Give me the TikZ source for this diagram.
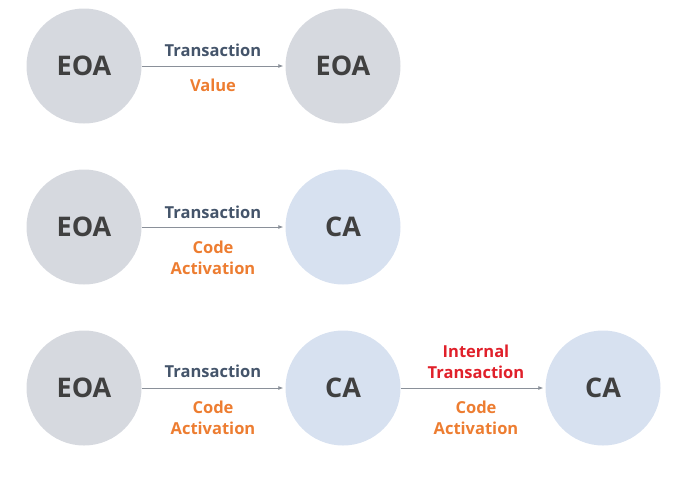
\documentclass[tikz,border=0pt]{standalone}
\usepackage{fontspec}
\setmainfont{Open Sans}
\usetikzlibrary{arrows.meta}
\definecolor{eoafill}{HTML}{D6D9DF}
\definecolor{cafill}{HTML}{D7E1F0}
\definecolor{nodetext}{HTML}{404040}
\definecolor{txtext}{HTML}{44546A}
\definecolor{orangetext}{HTML}{ED7D31}
\definecolor{redtext}{HTML}{E0202A}
\definecolor{arrowcol}{HTML}{8A9099}
\begin{document}
\begin{tikzpicture}[x=1pt,y=-1pt,
  eoa/.style={circle,fill=eoafill,minimum size=115pt,inner sep=0pt,font=\fontsize{27}{30}\selectfont\bfseries,text=nodetext},
  ca/.style={circle,fill=cafill,minimum size=115pt,inner sep=0pt,font=\fontsize{27}{30}\selectfont\bfseries,text=nodetext},
  conn/.style={draw=arrowcol,line width=0.8pt,-{Latex[length=5pt,width=4pt]},shorten >=2pt},
  toplbl/.style={font=\fontsize{16.5}{21}\selectfont\bfseries,text=txtext,align=center},
  botlbl/.style={font=\fontsize{16.5}{21.5}\selectfont\bfseries,text=orangetext,align=center},
  redlbl/.style={font=\fontsize{16.5}{21.5}\selectfont\bfseries,text=redtext,align=center}]
\useasboundingbox (0,0) rectangle (678,488);
% row 1
\node[eoa] (e1) at (84,66) {EOA};
\node[eoa] (e2) at (343,66) {EOA};
\draw[conn] (e1) -- (e2);
\node[toplbl] (t1) at (213,50) {Transaction};
\node[botlbl] (v1) at (213,85) {Value};
% row 2
\node[eoa] (e3) at (84,227) {EOA};
\node[ca] (c1) at (343,227) {CA};
\draw[conn] (e3) -- (c1);
\node[toplbl] (t2) at (213,212) {Transaction};
\node[botlbl] (v2) at (213,258) {Code\\Activation};
% row 3
\node[eoa] (e4) at (84,388) {EOA};
\node[ca] (c2) at (343,388) {CA};
\node[ca] (c3) at (603,388) {CA};
\draw[conn] (e4) -- (c2);
\draw[conn] (c2) -- (c3);
\node[toplbl] (t3) at (213,371) {Transaction};
\node[botlbl] (v3) at (213,418) {Code\\Activation};
\node[redlbl] (t4) at (476,362) {Internal\\Transaction};
\node[botlbl] (v4) at (476,418) {Code\\Activation};
\end{tikzpicture}
\end{document}
